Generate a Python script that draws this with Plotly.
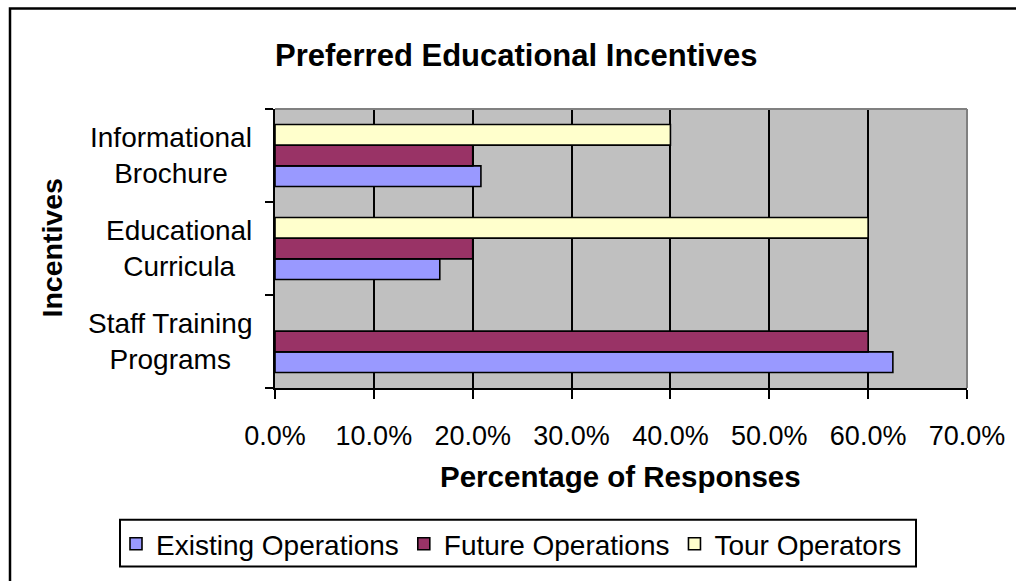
import plotly.graph_objects as go

# Survey results: share of respondents preferring each educational incentive
categories = ["Staff Training Programs", "Educational Curricula", "Informational Brochure"]
category_labels = ["Staff Training<br>Programs", "Educational<br>Curricula", "Informational<br>Brochure"]
existing_operations = [0.625, 0.1667, 0.2083]
future_operations = [0.60, 0.20, 0.20]
tour_operators = [None, 0.60, 0.40]
x_ticks = [0.0, 0.1, 0.2, 0.3, 0.4, 0.5, 0.6, 0.7]

FONT = "Liberation Sans, Arial, sans-serif"
W, H = 1016, 581
L, R, T, B = 275, 49, 109, 186
PW, PH = W - L - R, H - T - B


def px_x(p):
    return (p - L) / PW


def px_y(p):
    return (H - B - p) / PH


series = [
    ("Existing Operations", existing_operations, "#9999FF"),
    ("Future Operations", future_operations, "#993366"),
    ("Tour Operators", tour_operators, "#FFFFCC"),
]

fig = go.Figure()
for name, vals, color in series:
    fig.add_trace(go.Bar(
        name=name, y=categories, x=vals, orientation="h",
        marker=dict(color=color, line=dict(color="black", width=1.6)),
    ))

fig.update_layout(
    width=W, height=H,
    margin=dict(l=L, r=R, t=T, b=B, pad=0),
    paper_bgcolor="white", plot_bgcolor="#C0C0C0",
    barmode="group", bargap=0.333, bargroupgap=0,
    font=dict(family=FONT, color="black", size=27),
    showlegend=True,
    legend=dict(
        orientation="h", x=px_x(116), y=px_y(555), xanchor="left", yanchor="middle",
        bgcolor="rgba(0,0,0,0)", borderwidth=0,
        font=dict(size=28, family=FONT), traceorder="normal",
    ),
    xaxis=dict(
        range=[0, 0.7], tickvals=x_ticks, tickformat=".1%",
        showgrid=True, gridcolor="black", gridwidth=1.6,
        showline=True, linecolor="black", linewidth=2,
        ticks="outside", ticklen=9, tickwidth=1.6, tickcolor="black",
        ticklabelstandoff=14, zeroline=False, fixedrange=True,
        tickfont=dict(size=27, family=FONT),
    ),
    yaxis=dict(
        categoryorder="array", categoryarray=categories,
        showticklabels=False, tickson="boundaries",
        ticks="outside", ticklen=8, tickwidth=1.6, tickcolor="black",
        showline=True, linecolor="black", linewidth=2,
        showgrid=False, zeroline=False, fixedrange=True,
    ),
)

# Category labels: centred lines, block right-aligned beside the axis
for cat, lab in zip(categories, category_labels):
    fig.add_annotation(
        x=px_x(254), xref="paper", y=cat, yref="y", text=lab,
        showarrow=False, xanchor="right", yanchor="middle", align="center",
        font=dict(size=28, family=FONT),
    )

# Titles
fig.add_annotation(
    x=px_x(516), y=px_y(54), xref="paper", yref="paper",
    text="<b>Preferred Educational Incentives</b>", showarrow=False,
    xanchor="center", yanchor="middle", font=dict(size=31, family=FONT),
)
fig.add_annotation(
    x=px_x(620), y=px_y(486), xref="paper", yref="paper",
    text="<b>Percentage of Responses</b>", showarrow=False,
    xanchor="center", yanchor="middle", font=dict(size=29.5, family=FONT),
)
fig.add_annotation(
    x=px_x(51), y=px_y(252), xref="paper", yref="paper",
    text="<b>Incentives</b>", showarrow=False, textangle=-90,
    xanchor="center", yanchor="middle", font=dict(size=28.5, family=FONT),
)

# Grey plot-area border on top and right
fig.add_shape(type="line", xref="paper", yref="paper", x0=0, x1=1, y0=1, y1=1,
              line=dict(color="#808080", width=2), layer="above")
fig.add_shape(type="line", xref="paper", yref="paper", x0=1, x1=1, y0=0, y1=1,
              line=dict(color="#808080", width=2), layer="above")
# Legend frame
fig.add_shape(type="rect", xref="paper", yref="paper",
              x0=px_x(120), x1=px_x(916), y0=px_y(530), y1=px_y(578),
              line=dict(color="black", width=2), fillcolor="white", layer="below")
# Outer chart frame
fig.add_shape(type="rect", xref="paper", yref="paper",
              x0=px_x(10), x1=px_x(1040), y0=px_y(6), y1=px_y(600),
              line=dict(color="black", width=2.5), fillcolor="rgba(0,0,0,0)", layer="below")

fig.write_html("out.html")
